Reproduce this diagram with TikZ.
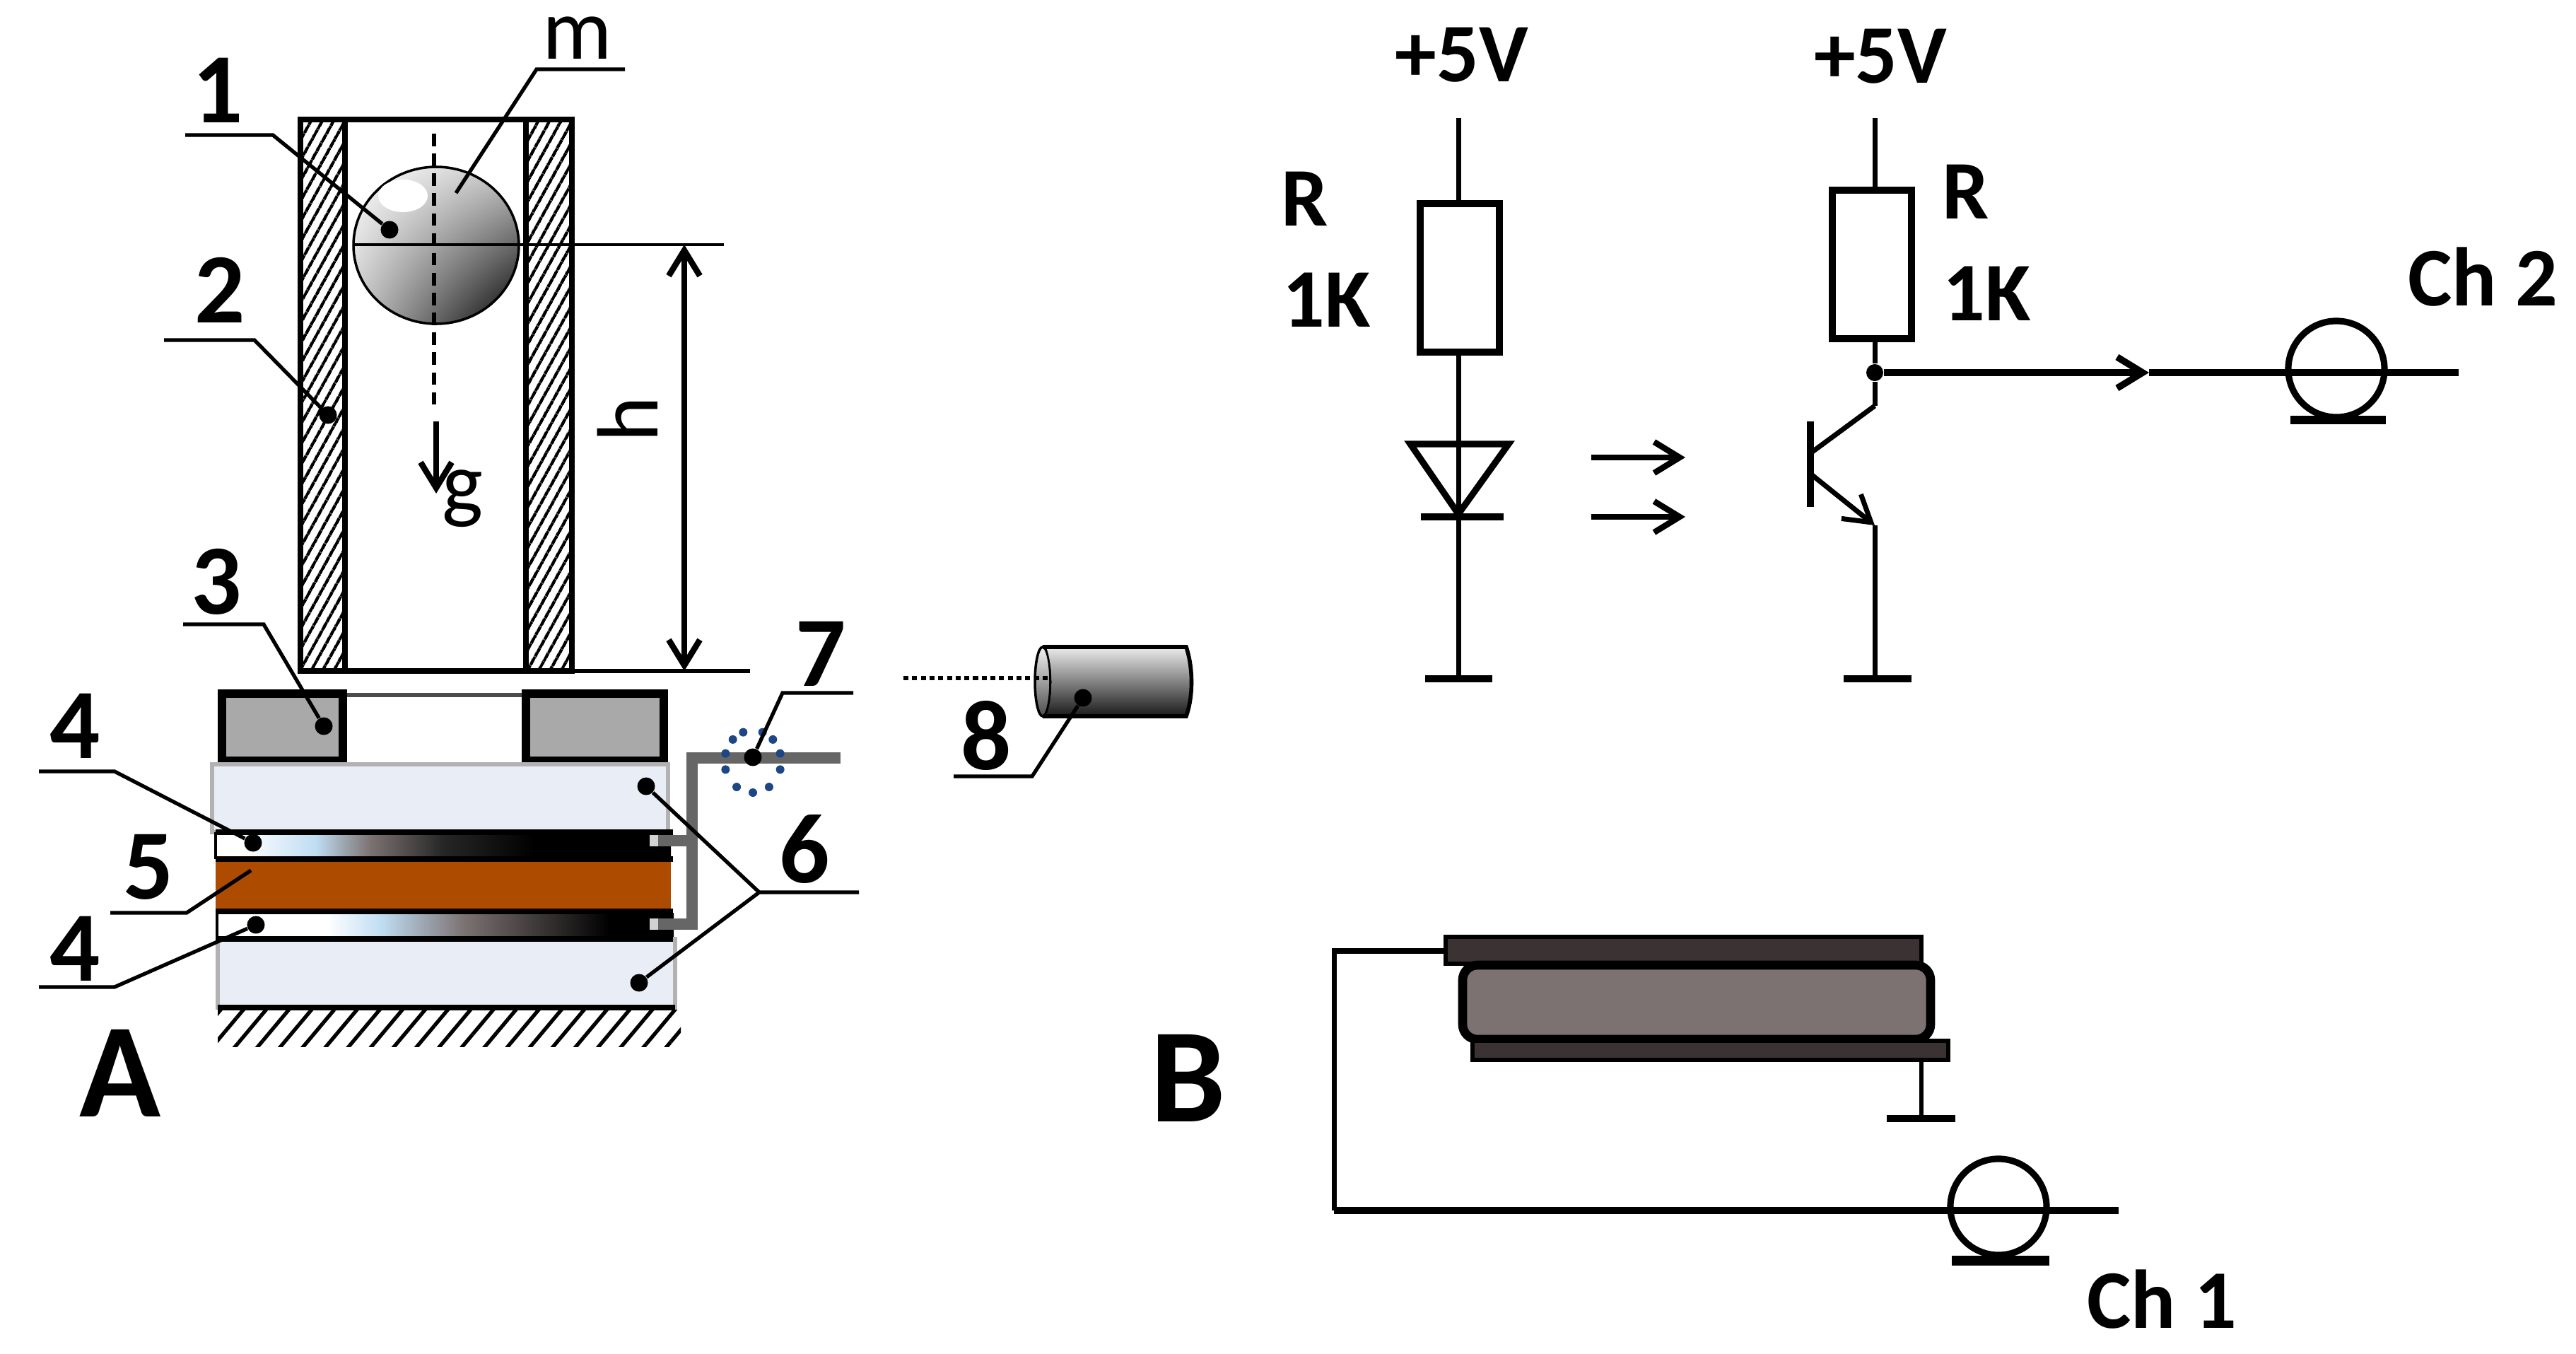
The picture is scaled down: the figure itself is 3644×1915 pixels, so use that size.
\documentclass[tikz,border=0pt]{standalone}
\usepackage{fontspec}
\setmainfont{Carlito}
\usetikzlibrary{arrows.meta,patterns.meta,shapes.geometric,shadings}

\definecolor{plateblue}{HTML}{E9EDF6}
\definecolor{ceramic}{HTML}{AD4B00}
\definecolor{magnetgray}{HTML}{A9A9A9}
\definecolor{pipegray}{HTML}{666666}
\definecolor{ringblue}{HTML}{1C4685}
\definecolor{pzdark}{HTML}{3B3333}
\definecolor{pzbody}{HTML}{7C7272}
\definecolor{elecblue}{HTML}{BFDDF2}

\pgfdeclarehorizontalshading{electop}{100bp}{color(0bp)=(white); color(28bp)=(white); color(36bp)=(elecblue); color(42bp)=(pzbody); color(50bp)=(black!85); color(60bp)=(black); color(100bp)=(black)}
\pgfdeclarehorizontalshading{elecbot}{100bp}{color(0bp)=(white); color(37bp)=(white); color(43bp)=(elecblue); color(52bp)=(pzbody); color(68bp)=(black); color(100bp)=(black)}

\tikzset{
    leader/.style={line width=1.5pt},
    leaddot/.style={fill=black, circle, inner sep=0pt, minimum size=0.25cm},
    wire/.style={line width=2pt},
    sigwire/.style={line width=2.7pt},
    numlbl/.style={font=\fontsize{40}{44}\selectfont\bfseries, inner sep=0pt},
    panellbl/.style={font=\fontsize{54}{58}\selectfont\bfseries, inner sep=0pt},
    txtlbl/.style={font=\fontsize{33.5}{36}\selectfont\bfseries, inner sep=0pt},
    plainlbl/.style={font=\fontsize{35}{38}\selectfont, inner sep=0pt},
    resbox/.style={draw, fill=white, line width=3pt, inner sep=0pt, minimum width=1.12cm, minimum height=2.1cm},
    loopcoil/.style={draw, ellipse, line width=2.6pt, inner sep=0pt, minimum width=1.36cm, minimum height=1.36cm},
    wallhatch/.style={pattern={Lines[angle=61,distance=4pt,line width=1.3pt]}},
    groundhatch/.style={pattern={Lines[angle=50,distance=7pt,line width=1.5pt]}},
    >={Straight Barb[length=0.36cm,width=0.44cm]},
}

\begin{document}
\begin{tikzpicture}[x=0.01cm,y=-0.01cm]
    \useasboundingbox (0,0) rectangle (3644,1915);

    % Tube
    \fill[wallhatch] (425,169) rectangle (488,949);
    \fill[wallhatch] (744,169) rectangle (809,949);
    \draw[wire] (425,949) -- (425,169) -- (809,169) -- (809,949) -- cycle;
    \draw[wire] (488,169) -- (488,949);
    \draw[wire] (744,169) -- (744,949);

    % Ball
    \shade[upper left=white, upper right=gray!45, lower left=gray!45, lower right=black] (617,347) ellipse (117 and 111);
    \draw[line width=1pt] (617,347) ellipse (117 and 111);
    \fill[white] (570,277) ellipse (35 and 23);
    \draw[line width=1.5pt, dash pattern=on 5pt off 3pt] (614,189) -- (614,577);
    \draw[line width=1.3pt] (501,346) -- (1024,346);

    % g, h
    \draw[line width=2.4pt,->] (617,596) -- (617,698);
    \node[plainlbl] (glbl) at (654,705) {g};
    \node[plainlbl, rotate=90] (hlbl) at (888,593) {h};
    \coordinate (htop) at (968,346);
    \coordinate (hbot) at (968,949);
    \draw[line width=2.4pt,<->] (htop) -- (hbot);
    \draw[line width=1.5pt] (809,949) -- (1061,949);

    % Sensor stack
    \draw[gray!60!black, line width=1.6pt] (491,983) -- (738,983);
    \draw[fill=magnetgray, line width=3.4pt] (314,981) rectangle (485,1076);
    \draw[fill=magnetgray, line width=3.4pt] (744,981) rectangle (939,1076);
    \draw[fill=plateblue, draw=gray!60, line width=1.5pt] (300,1081) rectangle (945,1177);
    \shade[shading=electop] (305,1177) rectangle (949,1215);
    \fill[ceramic] (305,1215) rectangle (949,1288);
    \shade[shading=elecbot] (307,1291) rectangle (953,1328);
    \draw[line width=1pt] (305,1177) -- (305,1215) (307,1291) -- (307,1328);
    \foreach \y in {1177,1215,1289,1328}
        \draw[line width=2.4pt] (305,\y) -- (952,\y);
    \draw[fill=plateblue, draw=gray!60, line width=1.5pt] (308,1328) rectangle (955,1425);
    \draw[line width=2.5pt] (308,1425) -- (955,1425);
    \draw[line width=2.4pt] (305,1328) -- (952,1328);
    \fill[groundhatch] (308,1428) rectangle (963,1480);

    % Pipe and blue ring
    \draw[pipegray, line width=4.4pt] (1189,1072) -- (979,1072) -- (979,1307) -- (919,1307);
    \draw[pipegray, line width=4.4pt] (979,1189) -- (919,1189);
    \foreach \y in {1189,1307}
        \fill[gray!35] (919,\y-8) rectangle (931,\y+8);
    \foreach \a in {90,55,125,15,165,-15,195,-45,225,-70,250}
        \fill[ringblue] ({1065+40*cos(\a)},{1077+44*sin(\a)}) circle (6);

    % Cylinder 8
    \shade[top color=gray!10, bottom color=gray!60!black, draw=black, line width=1pt] (1475,964) ellipse (11 and 49);
    \shade[top color=gray!15, bottom color=gray!20!black] (1480,915) -- (1678,915) .. controls (1688,945) and (1688,985) .. (1678,1013) -- (1480,1013) .. controls (1490,985) and (1490,945) .. (1480,915);
    \draw[line width=1.6pt] (1475,915) -- (1678,915) .. controls (1688,945) and (1688,985) .. (1678,1013) -- (1475,1013);
    \draw[line width=1.5pt, dash pattern=on 2pt off 1.5pt] (1278,959) -- (1484,959);

    % Leaders with dots
    \foreach \nm/\xa/\xb/\yl/\xd/\yd in {one/262/386/191/551/325, two/232/360/481/464/587, three/259/373/883/458/1027,
        foura/55/162/1091/358/1192, fourb/55/162/1396/362/1308, seven/1207/1107/980/1065/1071, eight/1349/1460/1098/1532/987} {
        \coordinate (\nm a) at (\xa,\yl);
        \coordinate (\nm b) at (\xb,\yl);
        \node[leaddot] (\nm d) at (\xd,\yd) {};
        \draw[leader] (\nm a) -- (\nm b) -- (\nm d);
    }
    % Leaders without dots
    \coordinate (ma) at (884,98);
    \coordinate (mb) at (759,98);
    \coordinate (md) at (645,273);
    \draw[leader] (ma) -- (mb) -- (md);
    \coordinate (fivea) at (156,1291);
    \coordinate (fiveb) at (264,1291);
    \coordinate (fived) at (355,1231);
    \draw[leader] (fivea) -- (fiveb) -- (fived);
    \coordinate (sixa) at (1215,1262);
    \coordinate (sixb) at (1074,1262);
    \node[leaddot] (sixd) at (914,1112) {};
    \node[leaddot] (sixe) at (904,1390) {};
    \draw[leader] (sixa) -- (sixb) -- (sixd);
    \draw[leader] (sixb) -- (sixe);

    % Labels
    \foreach \x/\y/\t in {308/128/1, 311/410/2, 306/823/3, 106/1027/4, 210/1226/5, 106/1342/4, 1138/1201/6, 1161/925/7, 1395/1040/8}
        \node[numlbl] at (\x,\y) {\t};
    \node[plainlbl] (mlbl) at (817,54) {m};
    \node[panellbl] (alabel) at (170,1518) {A};
    \node[panellbl] (blabel) at (1681,1525) {B};
    \foreach \x/\y/\t in {2068/78/+5V, 2660/80/+5V, 1846/281/R, 1877/424/1K, 2781/271/R, 2811/415/1K, 3512/392/Ch 2, 3058/1838/Ch 1}
        \node[txtlbl] at (\x,\y) {\t};

    % Light emitter branch
    \node[resbox] (rleft) at (2065,393) {};
    \coordinate (vleft) at (2063,167);
    \coordinate (gndleft) at (2063,960);
    \draw[wire] (vleft) -- (vleft |- rleft.north);
    \draw[wire] (gndleft |- rleft.south) -- (gndleft);
    \draw[line width=2.6pt] (1995,628) -- (2134,628) -- (2063,727) -- cycle;
    \draw[line width=3pt] (2010,731) -- (2127,731);
    \draw[line width=3pt] (2016,960) -- (2111,960);
    \draw[line width=2.4pt,->] (2251,647) -- (2384,647);
    \draw[line width=2.4pt,->] (2251,731) -- (2384,731);

    % Receiver branch
    \node[resbox] (rright) at (2648,374) {};
    \coordinate (vright) at (2652,167);
    \node[fill=black, circle, inner sep=0pt, minimum size=0.24cm] (junc) at (2652,527) {};
    \coordinate (coll) at (2652,574);
    \coordinate (emit) at (2652,743);
    \coordinate (gndright) at (2652,960);
    \draw[wire] (vright) -- (vright |- rright.north);
    \draw[wire] (junc |- rright.south) -- (junc) -- (coll);
    \draw[line width=2.6pt] (2561,596) -- (2561,717);
    \draw[wire] (2561,641) -- (coll);
    \draw[wire,->] (2561,670) -- (emit);
    \draw[wire] (emit) -- (gndright);
    \draw[line width=3pt] (2608,960) -- (2704,960);
    \coordinate (sigmid) at (3040,527);
    \coordinate (sigend) at (3478,527);
    \draw[sigwire,->] (junc) -- (sigmid);
    \draw[sigwire] (sigmid) -- (sigend);
    \node[loopcoil] (coiltwo) at (3305,522) {};
    \draw[line width=3.4pt] (3240,594) -- (3375,594);

    % Piezo element
    \draw[fill=pzdark, line width=1.5pt] (2045,1325) rectangle (2718,1363);
    \draw[fill=pzbody, line width=3.6pt, rounded corners=6pt] (2069,1365) rectangle (2731,1470);
    \draw[fill=pzdark, line width=1.5pt] (2083,1472) rectangle (2756,1499);
    \coordinate (piezol) at (2045,1345);
    \coordinate (cornup) at (1887,1345);
    \coordinate (corndn) at (1887,1712);
    \coordinate (outone) at (2997,1712);
    \draw[wire] (piezol) -- (cornup) -- (corndn);
    \draw[sigwire] (corndn) -- (outone);
    \draw[line width=1.6pt] (2718,1499) -- (2718,1582);
    \draw[line width=3pt] (2669,1582) -- (2766,1582);
    \node[loopcoil] (coilone) at (2827,1707) {};
    \draw[line width=3.8pt] (2761,1783) -- (2899,1783);
\end{tikzpicture}
\end{document}
